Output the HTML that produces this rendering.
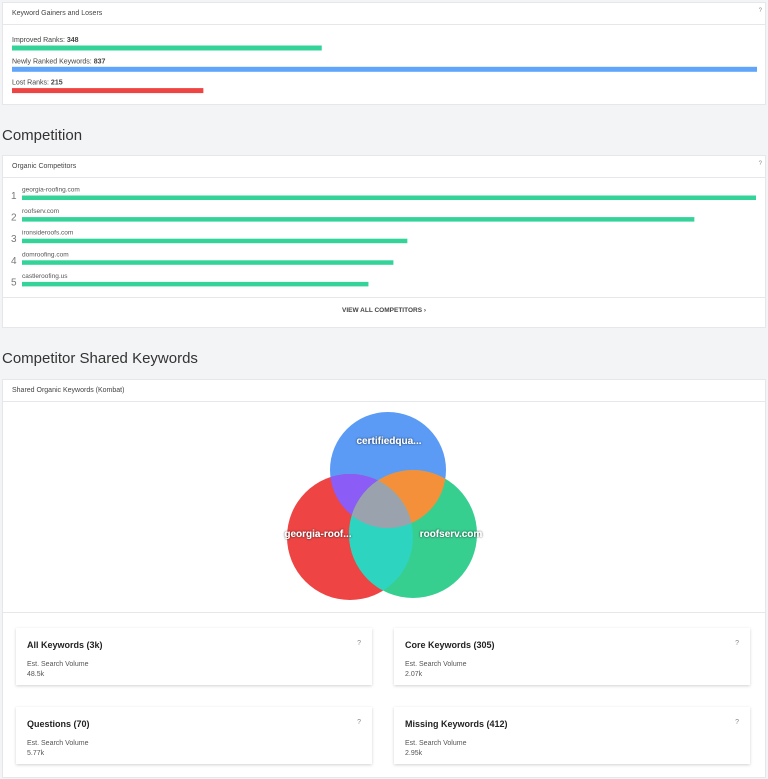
<!DOCTYPE html>
<html><head><meta charset="utf-8">
<style>
body{margin:0;width:768px;height:779px;background:#f3f4f6;font-family:"Liberation Sans",sans-serif;color:#333;position:relative;overflow:hidden}
.abs{position:absolute}
.card{position:absolute;background:#fff;border:1px solid #e5e7eb;box-sizing:border-box}
.hdr{position:absolute;left:0;right:0;top:0;height:21px;border-bottom:1px solid #e5e7eb;font-size:7px;line-height:21px;padding-left:9px;color:#444}
.q{position:absolute;font-size:6px;color:#888}
.lbl{position:absolute;font-size:7px;color:#444}
.h2{position:absolute;left:2px;font-size:15px;color:#333}
.stat{position:absolute;background:#fff;box-shadow:0 1px 3px rgba(0,0,0,.18);width:356px;height:57px}
.stat .t{position:absolute;left:11px;top:12px;font-size:9px;font-weight:bold;color:#222}
.stat .s{position:absolute;left:11px;top:33px;font-size:7px;color:#555}
.stat .v{position:absolute;left:11px;top:43px;font-size:7px;color:#555}
.stat .qq{position:absolute;right:11px;top:12px;font-size:7px;color:#888}
</style></head><body>
<div class="card" style="left:2px;top:2px;width:764px;height:103px">
 <div class="hdr">Keyword Gainers and Losers</div>
 <div class="q" style="right:3px;top:5px">?</div>
</div>
<svg id="g1" class="abs" style="left:0;top:0" width="768" height="110"></svg>

<div class="h2" style="top:127px">Competition</div>
<div class="card" style="left:2px;top:155px;width:764px;height:173px">
 <div class="hdr">Organic Competitors</div>
 <div class="q" style="right:3px;top:5px">?</div>
 <div style="position:absolute;left:0;right:0;top:141px;border-top:1px solid #e5e7eb"></div>
 <div style="position:absolute;left:0;right:0;top:151px;text-align:center;font-size:6.5px;font-weight:bold;color:#444">VIEW ALL COMPETITORS ›</div>
</div>
<svg id="g2" class="abs" style="left:0;top:150px" width="768" height="150"></svg>

<div class="h2" style="top:350px">Competitor Shared Keywords</div>
<div class="card" style="left:2px;top:379px;width:764px;height:399px">
 <div class="hdr">Shared Organic Keywords (Kombat)</div>
 <div style="position:absolute;left:0;right:0;top:232px;border-top:1px solid #e5e7eb"></div>
</div>
<svg class="abs" style="left:0;top:0" width="768" height="779">
 <defs>
  <clipPath id="cb"><circle cx="388" cy="470" r="58"/></clipPath>
  <clipPath id="cr"><circle cx="350" cy="537" r="63"/></clipPath>
  <clipPath id="cg"><circle cx="413" cy="534" r="64"/></clipPath>
  <filter id="sh"><feDropShadow dx="0" dy="0" stdDeviation="1" flood-color="#000" flood-opacity="0.8"/></filter>
 </defs>
 <circle cx="388" cy="470" r="58" fill="#5b9bf5"/>
 <circle cx="350" cy="537" r="63" fill="#ee4444"/>
 <circle cx="413" cy="534" r="64" fill="#36cf90"/>
 <g clip-path="url(#cb)"><circle cx="350" cy="537" r="63" fill="#8b5cf6"/><circle cx="413" cy="534" r="64" fill="#f5903a"/></g>
 <g clip-path="url(#cr)"><circle cx="413" cy="534" r="64" fill="#2dd4bf"/></g>
 <g clip-path="url(#cr)"><g clip-path="url(#cg)"><circle cx="388" cy="470" r="58" fill="#9aa3ad"/></g></g>
 <g font-family="Liberation Sans,sans-serif" font-size="10" font-weight="bold" fill="#fff" text-anchor="middle" filter="url(#sh)">
  <text x="389" y="444">certifiedqua...</text>
  <text x="318" y="537">georgia-roof...</text>
  <text x="451" y="537">roofserv.com</text>
 </g>
</svg>

<div class="stat" style="left:16px;top:628px"><div class="t">All Keywords (3k)</div><div class="qq">?</div><div class="s">Est. Search Volume</div><div class="v">48.5k</div></div>
<div class="stat" style="left:394px;top:628px"><div class="t">Core Keywords (305)</div><div class="qq">?</div><div class="s">Est. Search Volume</div><div class="v">2.07k</div></div>
<div class="stat" style="left:16px;top:707px"><div class="t">Questions (70)</div><div class="qq">?</div><div class="s">Est. Search Volume</div><div class="v">5.77k</div></div>
<div class="stat" style="left:394px;top:707px"><div class="t">Missing Keywords (412)</div><div class="qq">?</div><div class="s">Est. Search Volume</div><div class="v">2.95k</div></div>

<script>
const gainLabels=["Improved Ranks","Newly Ranked Keywords","Lost Ranks"];
const gainValues=[348,837,215];
const gainColors=["#34d399","#60a5fa","#ef4444"];
const compNames=["georgia-roofing.com","roofserv.com","ironsiderofs.com","domroofing.com","castleroofing.us"];
compNames[2]="ironsideroofs.com";
const compValues=[100,91.6,52.5,50.6,47.2];
const NS="http://www.w3.org/2000/svg";
function mk(svg,tag,attrs){const e=document.createElementNS(NS,tag);for(const k in attrs)e.setAttribute(k,attrs[k]);svg.appendChild(e);return e;}
const g1=document.getElementById('g1');
const gMax=Math.max(...gainValues);
const gx=v=>v/gMax*745;
gainValues.forEach((v,i)=>{
 const y=35+i*21.3;
 const t=mk(g1,'text',{x:12,y:y+7,'font-size':7,fill:'#444','font-family':'Liberation Sans,sans-serif'});
 
 
 t.textContent=gainLabels[i]+': ';
 const b=document.createElementNS(NS,'tspan');b.setAttribute('font-weight','bold');b.textContent=v;t.appendChild(b);
 const r=mk(g1,'rect',{x:12,y:y+10.5,width:gx(v),height:5,fill:gainColors[i]});
 
 
});
const g2=document.getElementById('g2');
const cMax=Math.max(...compValues);
const cx=v=>v/cMax*734;
compValues.forEach((v,i)=>{
 const y=36+i*21.6;
 const n=mk(g2,'text',{x:11,y:y+13,'font-size':10,fill:'#777','font-family':'Liberation Sans,sans-serif'});
 
 
 n.textContent=i+1;
 const t=mk(g2,'text',{x:22,y:y+5.5,'font-size':6.5,fill:'#555','font-family':'Liberation Sans,sans-serif'});
 
 
 t.textContent=compNames[i];
 const r=mk(g2,'rect',{x:22,y:y+9.5,width:cx(v),height:4.5,fill:'#34d399'});
 
 
});
</script>
</body></html>
